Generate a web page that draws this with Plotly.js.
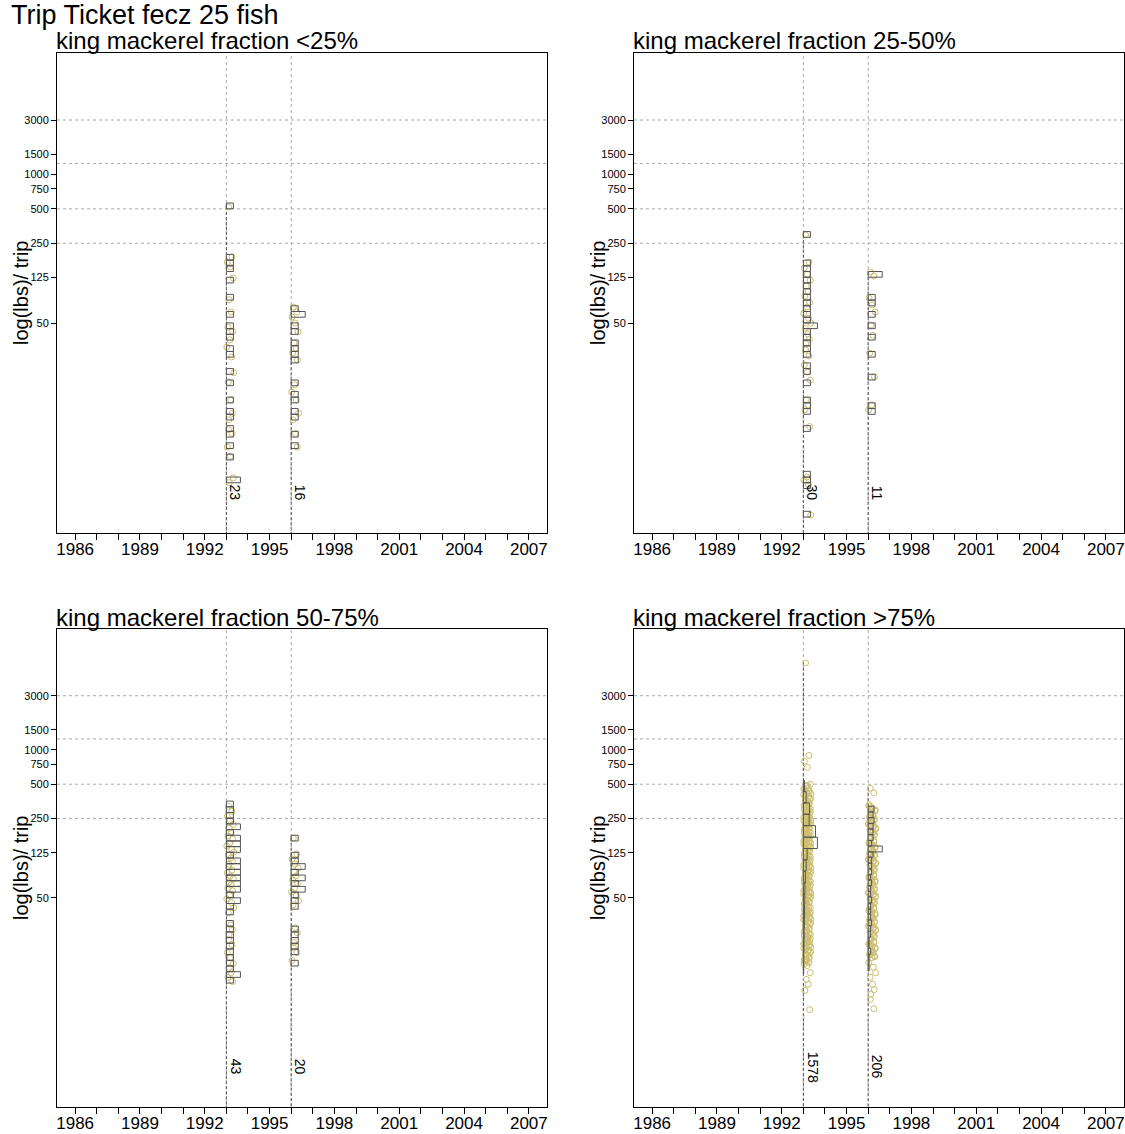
<!DOCTYPE html>
<html><head><meta charset="utf-8">
<script src="https://cdn.plot.ly/plotly-3.0.1.min.js"></script>
<style>html,body{margin:0;padding:0;background:#fff}#chart{width:1125px;height:1134px}</style>
</head><body><div id="chart"></div>
<script>
// ---------------- DATA ----------------
const mainTitle = 'Trip Ticket fecz 25 fish';
const panelTitles = ['king mackerel fraction <25%', 'king mackerel fraction 25-50%',
                     'king mackerel fraction 50-75%', 'king mackerel fraction >75%'];
const yAxisTitle = 'log(lbs)/ trip';
const groupYears = [1993, 1996];
const xTickYears = [1986,1987,1988,1989,1990,1991,1992,1993,1994,1995,1996,1997,1998,1999,2000,2001,2002,2003,2004,2005,2006,2007];
const xLabelYears = [1986,1989,1992,1995,1998,2001,2004,2007];
const yTickVals = [50,125,250,500,750,1000,1500,3000];
const yTickText = ['50','125','250','500','750','1000','1500','3000'];
const hRefLines = [250,500,1250,3000];
const groupCounts = [[23,16],[30,11],[43,20],[1578,206]];

// lbs per trip
const p1_1993 = [519,189,171,155,124,80,62.5,46,42,35.6,30.8,25.2,18.3,15.2,10.6,8.1,7.1,5.8,5.4,4.1,3.4,2.2,2.0];
const p1_1996 = [69,62.5,56.5,50,41.8,33.4,30.3,27.3,23.7,14.4,12.4,10.6,8.1,7.1,5.4,4.1];
const p2_1993 = [295,171,152,134,119,105,95,86,76,69,61,55,50,45,40,36,33,29,25.7,21.5,18.6,15.8,10.6,9.6,8.7,6.2,2.24,2.11,1.91,1.04];
const p2_1996 = [140,129,83,72,62.5,48,39,27.3,16.9,9.6,8.7];
const p3_1993 = [320,289,261,241,222,205,189,175,164,152,143,134,126,119,112,105,99,93.5,88,83,78,73.5,69,65,61,57.7,53.2,49.1,45.3,40.9,37,29,26.2,23.7,21.5,19.4,16.5,14.9,13.2,12.2,11,10,9.2];
const p3_1996 = [168,122,110,99,91.6,84.5,78,72,66.4,61,56.5,52.1,47.1,43.5,27.3,24.7,20.2,18.3,16.5,14.1];
// panel 4 is too dense to read every trip: the visible outline of the clouds
const p4_1993 = [5830,895,792,703,
  500,478,465,447,431,420,404,390,377,366,352,341,333,320,311,302,293,284,276,268,260,253,246,239,232,226,
  220,214,208,202,197,192,186,181,176,171,166,162,157,153,149,144,140,136,132,129,125,121,118,115,111,108,
  105,102,99,96,93,91,88,85,83,80,78,76,73,71,69,67,65,63,61,59,57,56,54,52,51,49,48,46,45,43,42,40,39,38,
  37,36,35,34,33,32,31,30,29,28,27,26,25,24.3,23.5,22.8,22,21.3,20.6,20,19.3,18.7,18,17.4,16.8,16.2,15.6,15,
  14.5,14,13.5,13.1,12.7,11,9.6,8.7,7.7,5.2];
const p4_1993_more = [488,455,438,412,396,383,370,358,346,336,326,315,306,297,288,280,272,264,256,249,242,235,
  229,223,217,211,205,199,194,189,183,178,173,168,164,159,155,151,146,142,138,134,130,127,123,119,116,113,109,
  106,103,100,97,94,92,89,86,84,81,79,77,74,72,70,68,66,64,62,60,58,56.5,55,53,51.5,50,48.5,47,45.5,44,42.5,41,
  39.5,38.5,37.5,36.5,35.5,34.5,33.5,32.5,31.5,30.5,29.5,28.5,27.5,26.5,25.5,24.7,23.9,23.1,22.4,21.7,21,20.3,
  19.7,19,18.4,17.7,17.1,16.5,15.9,15.3,14.8,14.2,13.8];
const p4_1996 = [460,420,
  330,312,298,284,271,259,248,237,226,216,207,198,190,182,174,167,160,153,147,141,135,130,125,120,115,110,
  106,102,98,94,90,87,83,80,77,74,71,68,66,63,61,58,56,54,52,50,48,46,44,42.5,41,39.5,38,36.5,35,33.6,32.3,
  31,29.8,28.6,27.5,26.4,25.3,24.3,23.3,22.4,21.5,20.6,19.8,19,18.2,17.5,16.8,16.1,15.5,14.9,
  13.5,12.3,11,10,8.7,7.8,7.1,6.4,5.3];
const p4_1996_more = [322,305,291,277,265,253,242,231,221,211,202,194,186,178,170,163,156,150,144,138,132,127,
  122,117,112,108,104,100,96,92,88,85,81,78,75,72,69,67,64,62,59,57,55,53,51,49,47,45,43,41.5,40,38.5,37,35.5,
  34.2,33,31.6,30.4,29.2,28,27,25.9,24.8,23.8,22.8,21.9,21,20.2,19.4,18.6,17.9,17.1,16.4,15.8,15.2];

// histogram bins for the two large groups (edges in lbs, top to bottom)
const p4_1993_binEdges = [540,430,342,272,216,171,136,108,86,68,54,43,34,27,21.6,17.1,13.6,10.8];
const p4_1993_binCounts = [30,70,160,150,310,360,95,70,50,40,35,30,25,20,15,10,8];
const p4_1996_binEdges = [320,285,254,226,202,180,160,143,127,114,101,90,80,72,64,57,51,45,40,36,32,28.5,25.4,22.6,20.2,18,16,14.3,12.7,11.4];
const p4_1996_binCounts = [12,10,12,10,10,10,7,29,10,7,7,7,5,7,5,5,7,5,5,5,7,5,5,2,2,5,2,2,2];

// horizontal jitter of the points (years right of the group line)
const jitterPattern = [0.10,0.26,0.04,0.18,0.32,0.13,0.22,0.07,0.29,0.16,0.02,0.24,0.34,0.09,0.20,0.28,0.12];

// ---------------- STYLE / LAYOUT ----------------
const W = 1125, H = 1134;
const boxes = [{l:57,r:547,t:53,b:533},{l:634,r:1124,t:53,b:533},{l:57,r:547,t:629,b:1107},{l:634,r:1124,t:629,b:1107}];
const yRangeLog = [-0.14, 4.064];
const xRange = [1985.16, 2007.84];
const pointColor = 'rgb(205,190,112)';
const histColor = 'rgb(85,85,85)';
const gridColor = 'rgb(170,170,170)';
const FONT = 'Arial, "Liberation Sans", sans-serif';
const maxBarYears = 0.65;
const autoBinLog = 0.05;

const panelPoints = [[p1_1993,p1_1996],[p2_1993,p2_1996],[p3_1993,p3_1996],
                     [p4_1993.concat(p4_1993_more),p4_1996.concat(p4_1996_more)]];
const explicitHist = {'3-0':{edges:p4_1993_binEdges,counts:p4_1993_binCounts},
                      '3-1':{edges:p4_1996_binEdges,counts:p4_1996_binCounts}};

function autoHist(vals){
  const m = new Map();
  vals.forEach(v=>{const k=Math.floor(Math.log10(v)/autoBinLog); m.set(k,(m.get(k)||0)+1);});
  const bins=[];
  m.forEach((c,k)=>bins.push({lo:Math.pow(10,k*autoBinLog),hi:Math.pow(10,(k+1)*autoBinLog),c}));
  return bins;
}
function explicitBins(h){
  const bins=[];
  for(let i=0;i<h.counts.length;i++) bins.push({lo:h.edges[i+1],hi:h.edges[i],c:h.counts[i]});
  return bins;
}

const traces=[], shapes=[], annotations=[];
const layout = {width:W,height:H,margin:{l:0,r:0,t:0,b:0},paper_bgcolor:'#fff',plot_bgcolor:'#fff',
  showlegend:false,font:{family:FONT,color:'#000'}};

boxes.forEach((bx,p)=>{
  const n = p+1;
  const xa = 'xaxis'+(n===1?'':n), ya='yaxis'+(n===1?'':n);
  const xr = 'x'+(n===1?'':n), yr='y'+(n===1?'':n);
  layout[xa] = {domain:[bx.l/W,bx.r/W],anchor:yr,range:xRange,tickmode:'array',tickvals:xTickYears,
    ticktext:xTickYears.map(y=>xLabelYears.includes(y)?String(y):''),ticks:'outside',ticklen:6,tickcolor:'#000',
    ticklabelstandoff:-5,
    showline:true,mirror:true,linecolor:'#000',linewidth:1,showgrid:false,zeroline:false,
    tickfont:{size:17,family:FONT,color:'#000'}};
  layout[ya] = {domain:[1-bx.b/H,1-bx.t/H],anchor:xr,type:'log',range:yRangeLog,tickmode:'array',
    tickvals:yTickVals,ticktext:yTickText,ticks:'outside',ticklen:5,tickcolor:'#000',
    showline:true,mirror:true,linecolor:'#000',linewidth:1,showgrid:false,zeroline:false,
    tickfont:{size:11,family:FONT,color:'#000'}};
  hRefLines.forEach(v=>shapes.push({type:'line',xref:xr+' domain',yref:yr,x0:0,x1:1,y0:v,y1:v,layer:'below',
    line:{color:gridColor,width:1,dash:'3px,3px'}}));
  groupYears.forEach(yv=>shapes.push({type:'line',xref:xr,yref:yr+' domain',x0:yv,x1:yv,y0:0,y1:1,layer:'below',
    line:{color:gridColor,width:1,dash:'3px,3px'}}));

  groupYears.forEach((yv,g)=>{
    const vals = panelPoints[p][g];
    const vmax = Math.max(...vals);
    traces.push({type:'scatter',mode:'lines',xaxis:xr,yaxis:yr,x:[yv,yv],y:[vmax,Math.pow(10,yRangeLog[0])],
      line:{color:histColor,width:1,dash:'3px,2px'},hoverinfo:'skip'});
    traces.push({type:'scatter',mode:'markers',xaxis:xr,yaxis:yr,
      x:vals.map((v,i)=>yv+jitterPattern[i%jitterPattern.length]),y:vals,
      marker:{symbol:'circle-open',size:6,color:pointColor,line:{width:1,color:pointColor}},hoverinfo:'y'});
    const key = p+'-'+g;
    const bins = explicitHist[key]?explicitBins(explicitHist[key]):autoHist(vals);
    const cmax = Math.max(...bins.map(b=>b.c));
    const hx=[],hy=[];
    bins.forEach(b=>{const w=b.c/cmax*maxBarYears;
      hx.push(yv,yv+w,yv+w,yv,yv,null); hy.push(b.lo,b.lo,b.hi,b.hi,b.lo,null);});
    traces.push({type:'scatter',mode:'lines',xaxis:xr,yaxis:yr,x:hx,y:hy,line:{color:histColor,width:1},hoverinfo:'skip'});
    annotations.push({xref:xr,yref:yr,x:yv+0.42,y:0.211,text:String(groupCounts[p][g]),showarrow:false,
      textangle:90,xanchor:'center',yanchor:'middle',font:{size:14,family:FONT,color:'#000'}});
  });
  annotations.push({xref:'paper',yref:'paper',x:(bx.l-3)/W,y:1-(bx.t-12)/H,text:panelTitles[p],showarrow:false,
    xanchor:'left',yanchor:'middle',font:{size:24,family:FONT,color:'#000'}});
  annotations.push({xref:'paper',yref:'paper',x:(bx.l-36)/W,y:1-((bx.t+bx.b)/2)/H,text:yAxisTitle,showarrow:false,
    textangle:-90,xanchor:'center',yanchor:'middle',font:{size:20,family:FONT,color:'#000'}});
});
annotations.push({xref:'paper',yref:'paper',x:9/W,y:1-15/H,text:mainTitle,showarrow:false,xanchor:'left',yanchor:'middle',
  font:{size:27,family:FONT,color:'#000'}});
layout.shapes=shapes; layout.annotations=annotations;
Plotly.newPlot('chart',traces,layout,{staticPlot:true,displayModeBar:false});
</script></body></html>
